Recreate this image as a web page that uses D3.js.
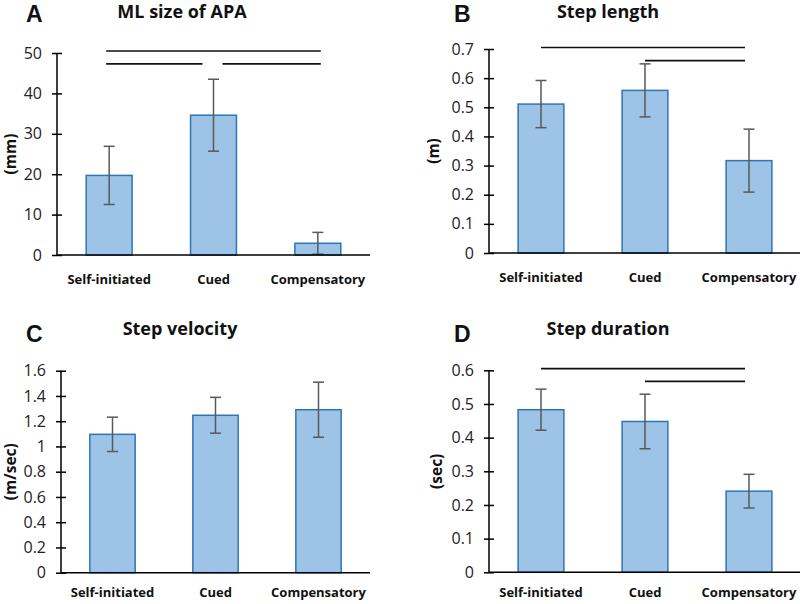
<!DOCTYPE html>
<html><head><meta charset="utf-8">
<script src="https://cdn.jsdelivr.net/npm/d3@7"></script>
<style>body{margin:0;background:#fff}svg{display:block}</style>
</head><body>
<svg id="c" width="800" height="604"></svg>
<script>
const categories = ["Self-initiated", "Cued", "Compensatory"];

const apaMeans = [19.7, 34.6, 2.9];
const apaErr = [7.2, 8.9, 2.7];
const apaTicks = [0, 10, 20, 30, 40, 50];
const apaSig = [[0, 2, 50.5], [0, 1, 47.3], [1, 2, 47.3]];

const lengthMeans = [0.511, 0.558, 0.317];
const lengthErr = [0.081, 0.091, 0.108];
const lengthTicks = [0, 0.1, 0.2, 0.3, 0.4, 0.5, 0.6, 0.7];
const lengthSig = [[0, 2, 0.705], [1, 2, 0.66]];

const velocityMeans = [1.096, 1.247, 1.291];
const velocityErr = [0.136, 0.142, 0.218];
const velocityTicks = [0, 0.2, 0.4, 0.6, 0.8, 1, 1.2, 1.4, 1.6];
const velocitySig = [];

const durationMeans = [0.483, 0.448, 0.241];
const durationErr = [0.061, 0.081, 0.05];
const durationTicks = [0, 0.1, 0.2, 0.3, 0.4, 0.5, 0.6];
const durationSig = [[0, 2, 0.605], [1, 2, 0.567]];

const panels = [
  {letter: "A", title: "ML size of APA", unit: "(mm)", means: apaMeans, err: apaErr, ticks: apaTicks, sig: apaSig,
   x0: 57, x1: 370, yBase: 255, yTop: 53, max: 50, titleX: 182, titleY: 18, letterX: 26, letterY: 22, unitX: 10, catY: 284},
  {letter: "B", title: "Step length", unit: "(m)", means: lengthMeans, err: lengthErr, ticks: lengthTicks, sig: lengthSig,
   x0: 489, x1: 801, yBase: 253, yTop: 49, max: 0.7, titleX: 608, titleY: 18, letterX: 454, letterY: 22, unitX: 433, catY: 282},
  {letter: "C", title: "Step velocity", unit: "(m/sec)", means: velocityMeans, err: velocityErr, ticks: velocityTicks, sig: velocitySig,
   x0: 61, x1: 370, yBase: 572.7, yTop: 370.7, max: 1.6, titleX: 180, titleY: 335, letterX: 26, letterY: 342, unitX: 10, catY: 597},
  {letter: "D", title: "Step duration", unit: "(sec)", means: durationMeans, err: durationErr, ticks: durationTicks, sig: durationSig,
   x0: 489, x1: 801, yBase: 572.3, yTop: 370.3, max: 0.6, titleX: 608, titleY: 335, letterX: 454, letterY: 342, unitX: 436, catY: 597}
];

const svg = d3.select("#c");
const FONT = "'Open Sans', 'Noto Sans', sans-serif";

panels.forEach(p => {
  const g = svg.append("g");
  const x = d3.scaleBand().domain(categories).range([p.x0, p.x1]).paddingInner(0.56).paddingOuter(0.28);
  const y = d3.scaleLinear().domain([0, p.max]).range([p.yBase, p.yTop]);

  // bars
  g.selectAll("rect.bar").data(p.means).join("rect")
    .attr("x", (d, i) => x(categories[i]))
    .attr("y", d => y(d))
    .attr("width", x.bandwidth())
    .attr("height", d => y(0) - y(d))
    .attr("fill", "#9dc3e6")
    .attr("stroke", "#2e75b6")
    .attr("stroke-width", 1.5);

  // error bars
  const cx = i => x(categories[i]) + x.bandwidth() / 2;
  p.means.forEach((m, i) => {
    const lo = Math.max(0, m - p.err[i]), hi = m + p.err[i];
    const eg = g.append("g").attr("stroke", "#595959").attr("stroke-width", 1.5);
    eg.append("line").attr("x1", cx(i)).attr("x2", cx(i)).attr("y1", y(lo)).attr("y2", y(hi));
    eg.append("line").attr("x1", cx(i) - 5.5).attr("x2", cx(i) + 5.5).attr("y1", y(hi)).attr("y2", y(hi));
    if (m - p.err[i] > 0)
      eg.append("line").attr("x1", cx(i) - 5.5).attr("x2", cx(i) + 5.5).attr("y1", y(lo)).attr("y2", y(lo));
  });

  // y axis
  const ya = g.append("g").attr("transform", `translate(${p.x0},0)`)
    .call(d3.axisLeft(y).tickValues(p.ticks).tickSize(5).tickFormat(d3.format("~g")));
  ya.select(".domain").attr("stroke", "#000").attr("stroke-width", 1.5).attr("d", `M0,${p.yBase}V${p.yTop}`);
  ya.selectAll(".tick line").attr("stroke", "#000").attr("stroke-width", 1.5).attr("x1", 5).attr("x2", -5);
  ya.selectAll(".tick text").attr("x", -15).attr("font-family", FONT).attr("font-size", 16).attr("fill", "#222");

  // x axis
  g.append("line").attr("x1", p.x0).attr("x2", p.x1).attr("y1", p.yBase).attr("y2", p.yBase)
    .attr("stroke", "#000").attr("stroke-width", 1.5);
  g.selectAll("text.cat").data(categories).join("text")
    .attr("x", (d, i) => cx(i)).attr("y", p.catY)
    .attr("text-anchor", "middle").attr("font-family", FONT).attr("font-weight", "bold")
    .attr("font-size", 13).attr("fill", "#111").text(d => d);

  // significance lines
  p.sig.forEach(([a, b, v]) => {
    let xa = cx(a) - 3, xb = cx(b) + 3;
    if (p.sig.some(s => s[2] === v && s[0] === b)) xb = cx(b) - 11;
    if (p.sig.some(s => s[2] === v && s[1] === a)) xa = cx(a) + 9;
    if (p.letter === "B" || p.letter === "D") { xa = cx(a); xb = cx(b) - 4; }
    g.append("line").attr("x1", xa).attr("x2", xb).attr("y1", y(v)).attr("y2", y(v))
      .attr("stroke", "#111").attr("stroke-width", 1.6);
  });

  // y label
  const yMid = (p.yBase + p.yTop) / 2;
  g.append("text").attr("transform", `translate(${p.unitX},${yMid}) rotate(-90)`)
    .attr("text-anchor", "middle").attr("dominant-baseline", "central")
    .attr("font-family", FONT).attr("font-weight", "bold")
    .attr("font-size", 15.5).attr("fill", "#111").text(p.unit);

  // title & letter
  g.append("text").attr("x", p.titleX).attr("y", p.titleY).attr("text-anchor", "middle")
    .attr("font-family", FONT).attr("font-weight", "bold").attr("font-size", 18).attr("fill", "#111").text(p.title);
  g.append("text").attr("x", p.letterX).attr("y", p.letterY)
    .attr("font-family", "'Liberation Sans', Arial, sans-serif").attr("font-weight", "bold")
    .attr("font-size", 23).attr("fill", "#111").text(p.letter);
});
</script>
</body></html>
